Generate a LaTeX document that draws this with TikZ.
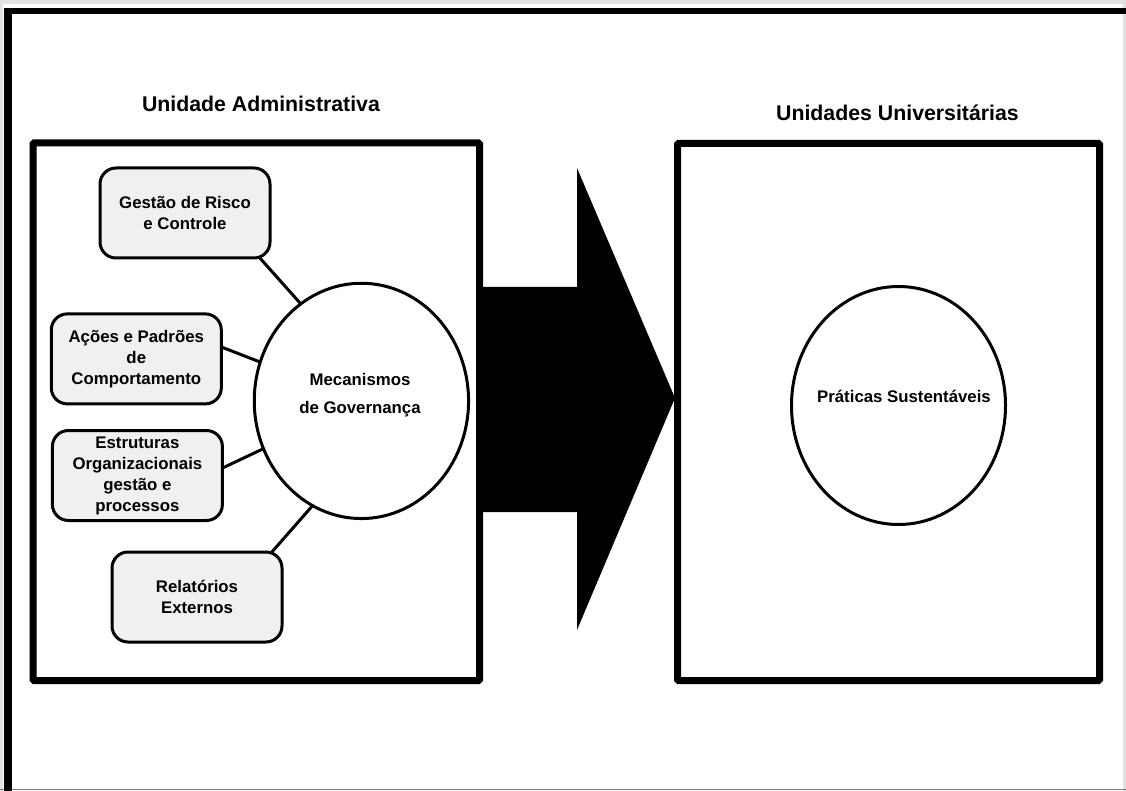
\documentclass[tikz,border=0pt]{standalone}
\usepackage{fontspec}
\setmainfont{Liberation Sans}
\usetikzlibrary{shapes.geometric}
\definecolor{boxfill}{HTML}{F0F0F0}
\definecolor{edgegray}{HTML}{E2E2E2}
\definecolor{rulegray}{HTML}{7A7A7A}
\newcommand\titletext{\bfseries\fontsize{21.3}{25}\selectfont}
\newcommand\boxtext{\bfseries\fontsize{16.8}{21}\selectfont}
\newcommand\hubtext{\bfseries\fontsize{16.8}{28}\selectfont}
\begin{document}
\begin{tikzpicture}[x=1pt,y=-1pt,
  unitbox/.style={draw=black, line width=7pt, rectangle, inner sep=0pt, outer sep=0pt, rounded corners=1pt},
  itembox/.style={draw=black, line width=3pt, rectangle, rounded corners=16pt, fill=boxfill,
    minimum width=170pt, minimum height=90pt, inner sep=0pt, outer sep=0pt, align=center, font=\boxtext},
  hub/.style={draw=black, line width=3pt, ellipse, inner sep=0pt, outer sep=0pt},
  link/.style={draw=black, line width=3pt},
  heading/.style={font=\titletext, anchor=base, inner sep=0pt},
  hublabel/.style={inner sep=0pt, align=center}]

% page area and edges
\useasboundingbox (0,0) rectangle (1126,791);
\fill[white] (0,0) rectangle (1126,791);
\fill[edgegray] (0,0) rectangle (1126,4);
\fill[edgegray] (0,0) rectangle (3,791);
\fill[edgegray] (1122.5,0) rectangle (1126,791);
\draw[rulegray, line width=1.5pt] (0,789.5) -- (1126,789.5);

% outer frame (top and left edges)
\draw[black, line width=8pt] (8.3,8) -- (8.3,791);
\draw[black, line width=6.5pt] (4.3,11) -- (1126,11);

% headings
\node[heading] (tadm) at (261,112) {Unidade Administrativa};
\node[heading] (tuni) at (897.5,121) {Unidades Universitárias};

% the two units
\node[unitbox, minimum width=446.5pt, minimum height=537.5pt] (adm) at (256.25,411.75) {};
\node[unitbox, minimum width=422pt, minimum height=537pt] (uni) at (888.5,412) {};

% block arrow between the units
\fill[black] (479.5,287) -- (577,287) -- (577,168) -- (675,398)
  -- (577,630) -- (577,512) -- (479.5,512) -- cycle;

% governance hub
\node[hub, minimum width=214.3pt, minimum height=235.3pt] (mg) at (361.4,400.9) {};
\node[hublabel, font=\hubtext] (mgt) at (360,395) {Mecanismos\\de Governança};

% governance components
\node[itembox] (gr) at (185,213) {Gestão de Risco\\e Controle};
\node[itembox] (ap) at (136.3,358.9) {Ações e Padrões\\de\\Comportamento};
\node[itembox] (eo) at (137.4,475.5) {Estruturas\\Organizacionais\\gestão e\\processos};
\node[itembox] (re) at (197,597) {Relatórios\\Externos};

\draw[link] (gr.-31.4) -- (mg.122.2);
\draw[link] (ap.8) -- (mg.159.1);
\draw[link] (eo.5.8) -- (mg.206.6);
\draw[link] (re.31.4) -- (mg.245.2);

% sustainable practices
\node[hub, minimum width=214pt, minimum height=238pt] (ps) at (898.5,405.5) {};
\node[font=\boxtext, anchor=base, inner sep=0pt] (pst) at (904,402) {Práticas Sustentáveis};

\end{tikzpicture}
\end{document}
